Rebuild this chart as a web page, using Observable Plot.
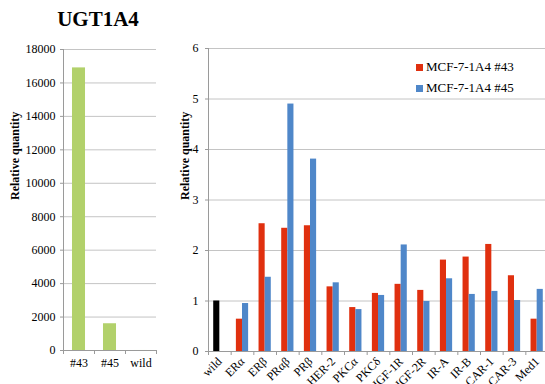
<!DOCTYPE html>
<html>
<head>
<meta charset="utf-8">
<script src="https://cdn.jsdelivr.net/npm/d3@7"></script>
<script src="https://cdn.jsdelivr.net/npm/@observablehq/plot@0.6"></script>
<style>
  html, body { margin: 0; padding: 0; background: #fff; overflow: hidden; }
  #root { position: relative; width: 545px; height: 384px; font-family: "Liberation Serif", "Times New Roman", serif; }
  #title { position: absolute; left: 0; width: 196px; top: 7px; text-align: center; font-weight: bold; font-size: 21px; color: #000; }
  #left, #right { position: absolute; top: 0; }
  #left { left: 0; }
  #right { left: 170px; }
  #root svg { max-width: none; overflow: visible; font-family: "Liberation Serif", "Times New Roman", serif !important; font-size: 12px; }
  #root svg text { font-family: "Liberation Serif", "Times New Roman", serif; }
  .legend { position: absolute; left: 416px; top: 57px; font-size: 13px; line-height: 20.6px; color: #000; }
  .legend .sw { display: inline-block; width: 7px; height: 7px; margin-right: 3px; vertical-align: 0px; }
</style>
</head>
<body>
<div id="root">
  <div id="title">UGT1A4</div>
  <div id="left"></div>
  <div id="right"></div>
  <div class="legend" id="legend"></div>
</div>
<script>
// UGT1A4 expression in the two clones vs. wild type
const cloneLabels = ["#43", "#45", "wild"];
const cloneValues = [16900, 1600, 1];
const leftTicks = [0, 2000, 4000, 6000, 8000, 10000, 12000, 14000, 16000, 18000];

// Receptor / signalling gene expression per clone (wild = 1)
const genes = ["wild", "ERα", "ERβ", "PRαβ", "PRβ", "HER-2", "PKCα", "PKCδ", "IGF-1R", "IGF-2R", "IR-A", "IR-B", "CAR-1", "CAR-3", "Med1"];
const clone43 = [1, 0.64, 2.53, 2.44, 2.49, 1.28, 0.87, 1.15, 1.33, 1.21, 1.81, 1.87, 2.12, 1.50, 0.64];
const clone45 = [null, 0.95, 1.47, 4.90, 3.81, 1.36, 0.83, 1.11, 2.11, 0.99, 1.44, 1.13, 1.19, 1.01, 1.23];
const seriesNames = ["MCF-7-1A4 #43", "MCF-7-1A4 #45"];
const rightTicks = [0, 1, 2, 3, 4, 5, 6];

const red = "#e0300f";
const blue = "#4f87c9";
const green = "#b2d16b";
const gridColor = "#c4c4c4";
const axisColor = "#9a9a9a";
const serif = "'Liberation Serif', 'Times New Roman', serif";
const font = {fontFamily: serif, fontSize: "12px", color: "#000", background: "transparent"};

// Left panel: one bar per clone
const leftData = cloneLabels.map((c, i) => ({label: c, i, value: cloneValues[i]}));
const leftPlot = Plot.plot({
  width: 170, height: 384,
  marginLeft: 63, marginRight: 14, marginTop: 49, marginBottom: 34,
  style: font,
  x: {domain: [0, cloneLabels.length], axis: null},
  y: {domain: [0, 18000], axis: null},
  marks: [
    Plot.gridY(leftTicks.slice(1), {stroke: gridColor, strokeOpacity: 1}),
    Plot.rectY(leftData, {x1: d => d.i + 0.29, x2: d => d.i + 0.71, y: "value", fill: green}),
    Plot.ruleX([0], {stroke: axisColor}),
    Plot.ruleY([0], {stroke: axisColor}),
    Plot.axisY(leftTicks, {tickSize: 3, tickPadding: 5, stroke: axisColor, tickFormat: d3.format("d"), fill: "#000", fontFamily: serif, label: null}),
    Plot.axisX(d3.range(cloneLabels.length + 1), {tickSize: 4, stroke: axisColor, tickFormat: () => "", label: null}),
    Plot.axisX(leftData.map(d => d.i + 0.5), {tickSize: 0, tickPadding: 8, tickFormat: v => cloneLabels[Math.floor(v)], fill: "#000", fontFamily: serif, label: null}),
    Plot.text(["Relative quantity"], {frameAnchor: "left", rotate: -90, dx: -48, fontWeight: "bold", fontFamily: serif, fill: "#000"})
  ]
});
document.getElementById("left").appendChild(leftPlot);

// Right panel: grouped bars, wild type drawn in the first slot
const rightData = [];
genes.forEach((g, i) => {
  if (clone43[i] != null) rightData.push({gene: g, i, slot: 0, series: g === "wild" ? "wild" : seriesNames[0], value: clone43[i]});
  if (clone45[i] != null) rightData.push({gene: g, i, slot: 1, series: seriesNames[1], value: clone45[i]});
});
const rightPlot = Plot.plot({
  width: 378, height: 384,
  marginLeft: 38, marginRight: 0, marginTop: 48, marginBottom: 33,
  style: font,
  x: {domain: [0, genes.length], axis: null},
  y: {domain: [0, 6], axis: null},
  color: {domain: ["wild", ...seriesNames], range: ["#000000", red, blue]},
  marks: [
    Plot.gridY(rightTicks.slice(1), {stroke: gridColor, strokeOpacity: 1}),
    Plot.rectY(rightData, {x1: d => d.i + 0.23 + d.slot * 0.27, x2: d => d.i + 0.5 + d.slot * 0.27, y: "value", fill: "series"}),
    Plot.ruleX([0], {stroke: axisColor}),
    Plot.ruleY([0], {stroke: axisColor}),
    Plot.axisY(rightTicks, {tickSize: 3, tickPadding: 7, stroke: axisColor, tickFormat: d3.format("d"), fill: "#000", fontFamily: serif, label: null}),
    Plot.axisX(d3.range(genes.length + 1), {tickSize: 4, stroke: axisColor, tickFormat: () => "", label: null}),
    Plot.axisX(genes.map((g, i) => i + 0.5), {tickSize: 0, tickPadding: 8, tickRotate: -45, tickFormat: v => genes[Math.floor(v)], fill: "#000", fontFamily: serif, label: null}),
    Plot.text(["Relative quantity"], {frameAnchor: "left", rotate: -90, dx: -23, fontWeight: "bold", fontFamily: serif, fill: "#000"})
  ]
});
document.getElementById("right").appendChild(rightPlot);

// Legend for the two clones
const legend = document.getElementById("legend");
[[seriesNames[0], red], [seriesNames[1], blue]].forEach(([name, color]) => {
  const row = document.createElement("div");
  const sw = document.createElement("span");
  sw.className = "sw";
  sw.style.background = color;
  row.appendChild(sw);
  row.appendChild(document.createTextNode(name));
  legend.appendChild(row);
});
</script>
</body>
</html>
